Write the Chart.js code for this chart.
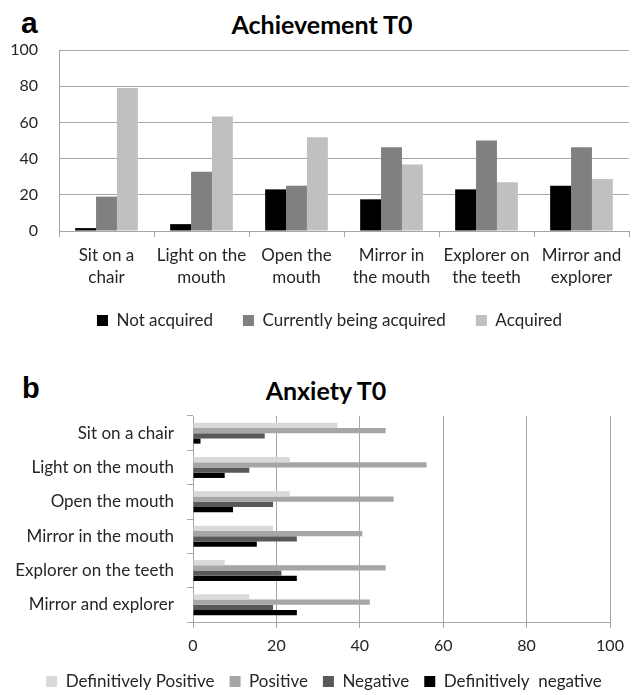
<!DOCTYPE html>
<html><head><meta charset="utf-8">
<script src="https://cdn.jsdelivr.net/npm/chart.js@4"></script>
<style>
html,body{margin:0;padding:0;background:#fff;overflow:hidden;width:635px;height:695px;}
#wrap{position:relative;width:635px;height:695px;overflow:hidden;}
canvas{position:absolute;left:0;}
.lbl{position:absolute;font-family:"Liberation Sans",Arial,sans-serif;font-weight:bold;color:#000;line-height:30px;}
.ttl{position:absolute;width:300px;text-align:center;font-family:Lato,"Open Sans",sans-serif;font-weight:bold;font-size:25px;color:#000;line-height:30px;}
</style></head>
<body><div id="wrap">
<div class="lbl" style="left:21px;top:8px;font-size:30px;">a</div>
<div class="ttl" style="left:172px;top:9px;">Achievement T0</div>
<div class="lbl" style="left:22px;top:373px;font-size:29px;">b</div>
<div class="ttl" style="left:176px;top:375px;">Anxiety T0</div>
<canvas id="ca" width="635" height="346" style="top:0;width:635px;height:346px;"></canvas>
<canvas id="cb" width="635" height="360" style="top:340px;width:635px;height:360px;"></canvas>
</div>
<script>
const categoriesA = [["Sit on a","chair"],["Light on the","mouth"],["Open the","mouth"],["Mirror in","the mouth"],["Explorer on","the teeth"],["Mirror and","explorer"]];
const notAcquired = [1.6, 3.8, 23, 17.5, 23, 25];
const beingAcquired = [19, 32.7, 25, 46.3, 50, 46.3];
const acquired = [79, 63.3, 51.8, 36.7, 27, 28.7];
const ticksA = [0, 20, 40, 60, 80, 100];

const categoriesB = ["Sit on a chair","Light on the mouth","Open the mouth","Mirror in the mouth","Explorer on the teeth","Mirror and explorer"];
const defPositive = [34.6, 23.2, 23.2, 19.2, 7.6, 13.5];
const positive = [46.2, 56, 48.1, 40.6, 46.2, 42.4];
const negative = [17.2, 13.5, 19.2, 24.9, 21.2, 19.2];
const defNegative = [1.8, 7.6, 9.6, 15.3, 24.9, 24.9];
const ticksB = [0, 20, 40, 60, 80, 100];

const FONT = 'Lato, "Open Sans", sans-serif';
const TXT = '#262626';
const GRID = '#a6a6a6';

const legendShift = {
  id: 'legendShift',
  afterLayout(chart, args, opts) {
    const l = chart.legend; if (!l) return;
    const dx = opts.dx || 0, dy = opts.dy || 0;
    l.left += dx; l.right += dx; l.top += dy; l.bottom += dy;
  }
};

new Chart(document.getElementById('ca'), {
  type: 'bar',
  plugins: [legendShift],
  data: {
    labels: categoriesA,
    datasets: [
      {label: 'Not acquired', data: notAcquired, backgroundColor: '#000000'},
      {label: 'Currently being acquired', data: beingAcquired, backgroundColor: '#808080'},
      {label: 'Acquired', data: acquired, backgroundColor: '#c0c0c0'}
    ]
  },
  options: {
    responsive: false, devicePixelRatio: 1, animation: false,
    layout: {padding: {top: 50, left: 0, right: 6, bottom: 0}},
    datasets: {bar: {categoryPercentage: 0.66, barPercentage: 1.0}},
    plugins: {
      title: {display: false},
      tooltip: {enabled: false},
      legendShift: {dx: 15, dy: -7},
      legend: {position: 'bottom', labels: {boxWidth: 11, boxHeight: 11, padding: 30, color: TXT, font: {family: FONT, size: 17}}}
    },
    scales: {
      x: {
        grid: {drawOnChartArea: false, drawTicks: true, tickLength: 6, color: GRID, offset: true},
        border: {color: GRID},
        ticks: {color: TXT, font: {family: FONT, size: 17, lineHeight: 1.3}, padding: 7, maxRotation: 0, autoSkip: false},
        afterFit(s) { s.height = 58; }
      },
      y: {
        min: 0, max: 100,
        afterBuildTicks(s) { s.ticks = ticksA.map(v => ({value: v})); },
        grid: {color: GRID, drawTicks: false},
        border: {color: GRID},
        ticks: {color: TXT, font: {family: FONT, size: 16}, padding: 21},
        afterFit(s) { s.width = 59; }
      }
    }
  }
});

new Chart(document.getElementById('cb'), {
  type: 'bar',
  plugins: [legendShift],
  data: {
    labels: categoriesB,
    datasets: [
      {label: 'Definitively Positive', data: defPositive, backgroundColor: '#d9d9d9'},
      {label: 'Positive', data: positive, backgroundColor: '#a6a6a6'},
      {label: 'Negative', data: negative, backgroundColor: '#595959'},
      {label: 'Definitively  negative', data: defNegative, backgroundColor: '#000000'}
    ]
  },
  options: {
    indexAxis: 'y',
    responsive: false, devicePixelRatio: 1, animation: false,
    layout: {padding: {top: 76, left: 0, right: 25, bottom: 0}},
    datasets: {bar: {categoryPercentage: 0.61, barPercentage: 1.0}},
    plugins: {
      title: {display: false},
      tooltip: {enabled: false},
      legendShift: {dx: 19, dy: 0},
      legend: {position: 'bottom', labels: {boxWidth: 11, boxHeight: 11, padding: 15, color: TXT, font: {family: FONT, size: 17}}}
    },
    scales: {
      x: {
        min: 0, max: 100,
        afterBuildTicks(s) { s.ticks = ticksB.map(v => ({value: v})); },
        grid: {color: GRID, drawTicks: true, tickLength: 6},
        border: {color: GRID},
        ticks: {color: TXT, font: {family: FONT, size: 16}, padding: 8},
        afterFit(s) { s.height = 36; }
      },
      y: {
        grid: {drawOnChartArea: false, drawTicks: true, tickLength: 6, color: GRID, offset: true},
        border: {color: GRID},
        ticks: {color: TXT, font: {family: FONT, size: 17}, padding: 13, autoSkip: false},
        afterFit(s) { s.width = 193; }
      }
    }
  }
});
</script>
</body></html>
